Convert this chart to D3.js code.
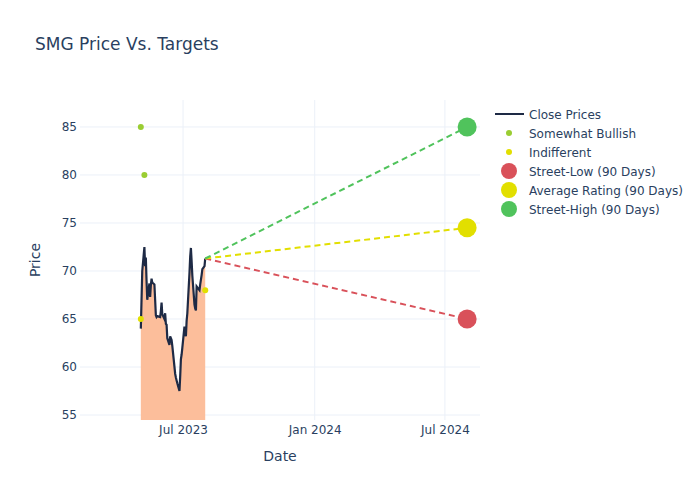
<!DOCTYPE html>
<html><head><meta charset="utf-8">
<script src="https://cdn.jsdelivr.net/npm/d3@7"></script>
<style>body{margin:0;background:#fff;} svg{font-family:"DejaVu Sans",sans-serif;}</style>
</head><body><svg id="c" width="700" height="500"></svg>
<script>
const priceDates = ["2023-05-03","2023-05-04","2023-05-05","2023-05-08","2023-05-09","2023-05-10","2023-05-11","2023-05-12","2023-05-15","2023-05-16","2023-05-17","2023-05-18","2023-05-19","2023-05-22","2023-05-23","2023-05-24","2023-05-25","2023-05-26","2023-05-30","2023-05-31","2023-06-01","2023-06-02","2023-06-05","2023-06-06","2023-06-07","2023-06-08","2023-06-09","2023-06-12","2023-06-13","2023-06-14","2023-06-15","2023-06-16","2023-06-20","2023-06-21","2023-06-22","2023-06-23","2023-06-26","2023-06-27","2023-06-28","2023-06-29","2023-06-30","2023-07-03","2023-07-05","2023-07-06","2023-07-07","2023-07-10","2023-07-11","2023-07-12","2023-07-13","2023-07-14","2023-07-17","2023-07-18","2023-07-19","2023-07-20","2023-07-21","2023-07-24","2023-07-25","2023-07-26","2023-07-27","2023-07-28","2023-07-31","2023-08-01"];
const closePrices = [64.0,67.0,70.0,72.5,70.5,71.4,69.0,67.0,68.7,67.3,68.5,69.2,68.8,68.6,67.0,65.4,65.2,65.3,65.2,65.8,66.7,65.5,65.0,65.6,64.5,64.4,63.0,62.3,63.2,63.0,62.8,62.2,59.3,58.9,58.6,58.3,57.5,59.0,60.8,61.3,62.0,64.2,63.2,64.8,65.6,69.8,71.5,72.4,71.0,69.5,66.5,66.1,65.9,68.4,68.3,68.0,68.6,69.1,69.6,70.2,70.5,71.3];

const bullishDates = ["2023-05-03","2023-05-08"];
const bullishValues = [85,80];
const indifferentDates = ["2023-05-03","2023-08-01"];
const indifferentValues = [65,68];

const targetStartDate = "2023-08-01";
const targetEndDate = "2024-08-01";
const targetStartPrice = 71.3;
const targetNames = ["Street-Low (90 Days)","Average Rating (90 Days)","Street-High (90 Days)"];
const targetValues = [65,74.5,85];
const targetColors = ["#d9515a","#e2df00","#50c35c"];

const xTicks = ["2023-07-01","2024-01-01","2024-07-01"];
const yTicks = [55,60,65,70,75,80,85];

const P = d => new Date(d + "T00:00:00Z");
const svg = d3.select("#c");
const L = 80, R = 480, T = 100, B = 420;
const x = d3.scaleUtc().domain([P("2023-02-07"), P("2024-08-19")]).range([L, R]);
const y = d3.scaleLinear().domain([54.48, 87.81]).range([B, T]);
const textColor = "#2a3f5f", gridColor = "#ebf0f8";

// title
svg.append("text").attr("x",35).attr("y",50).attr("font-size",17).attr("fill",textColor).text("SMG Price Vs. Targets");

// grid
const g = svg.append("g");
g.selectAll(".hg").data(yTicks).join("line").attr("x1",L).attr("x2",R).attr("y1",d=>y(d)).attr("y2",d=>y(d)).attr("stroke",gridColor).attr("stroke-width",1);
g.selectAll(".vg").data(xTicks).join("line").attr("x1",d=>x(P(d))).attr("x2",d=>x(P(d))).attr("y1",T).attr("y2",B).attr("stroke",gridColor).attr("stroke-width",1);

// axes
const ya = svg.append("g").attr("transform",`translate(${L},0)`).call(d3.axisLeft(y).tickValues(yTicks).tickSize(0).tickPadding(3));
const xa = svg.append("g").attr("transform",`translate(0,${B})`).call(d3.axisBottom(x).tickValues(xTicks.map(P)).tickFormat(d3.utcFormat("%b %Y")).tickSize(0).tickPadding(5));
[ya,xa].forEach(a=>{a.select(".domain").remove(); a.selectAll("text").attr("fill",textColor).attr("font-size",12).attr("font-family","DejaVu Sans, sans-serif");});

svg.append("text").attr("x",(L+R)/2).attr("y",461).attr("text-anchor","middle").attr("font-size",14).attr("fill",textColor).text("Date");
svg.append("text").attr("transform",`translate(40,${(T+B)/2}) rotate(-90)`).attr("text-anchor","middle").attr("font-size",14).attr("fill",textColor).text("Price");

const clip = svg.append("defs").append("clipPath").attr("id","pc").append("rect").attr("x",L).attr("y",T).attr("width",R-L).attr("height",B-T);
const plot = svg.append("g").attr("clip-path","url(#pc)");

const pts = priceDates.map((d,i)=>({d:P(d),v:closePrices[i]}));
plot.append("path").datum(pts).attr("d",d3.area().x(p=>x(p.d)).y0(B).y1(p=>y(p.v))).attr("fill","rgba(252,190,155,1)");
plot.append("path").datum(pts).attr("d",d3.line().x(p=>x(p.d)).y(p=>y(p.v))).attr("fill","none").attr("stroke","#1e2a45").attr("stroke-width",2.2);

// target dashed lines
targetValues.forEach((v,i)=>{
  plot.append("line").attr("x1",x(P(targetStartDate))).attr("y1",y(targetStartPrice)).attr("x2",x(P(targetEndDate))).attr("y2",y(v))
    .attr("stroke",targetColors[i]).attr("stroke-width",2).attr("stroke-dasharray","6,4");
});

// analyst points
plot.selectAll(".bull").data(bullishDates).join("circle").attr("cx",d=>x(P(d))).attr("cy",(d,i)=>y(bullishValues[i])).attr("r",3).attr("fill","#9acd32");
plot.selectAll(".ind").data(indifferentDates).join("circle").attr("cx",d=>x(P(d))).attr("cy",(d,i)=>y(indifferentValues[i])).attr("r",3).attr("fill","#e2df00");

// target markers
plot.selectAll(".tg").data(targetValues).join("circle").attr("cx",x(P(targetEndDate))).attr("cy",d=>y(d)).attr("r",9.5).attr("fill",(d,i)=>targetColors[i]);

// legend
const lg = svg.append("g");
const items = [{n:"Close Prices",t:"line",c:"#1e2a45"},{n:"Somewhat Bullish",t:"s",c:"#9acd32"},{n:"Indifferent",t:"s",c:"#e2df00"}]
  .concat(targetNames.map((n,i)=>({n,t:"b",c:targetColors[i]})));
items.forEach((it,i)=>{
  const yy = 114 + i*19;
  if(it.t==="line") lg.append("line").attr("x1",495).attr("x2",524).attr("y1",yy).attr("y2",yy).attr("stroke",it.c).attr("stroke-width",2);
  else lg.append("circle").attr("cx",509).attr("cy",yy).attr("r",it.t==="s"?3:8).attr("fill",it.c);
  lg.append("text").attr("x",529).attr("y",yy+4.5).attr("font-size",12).attr("fill",textColor).text(it.n);
});
</script></body></html>
